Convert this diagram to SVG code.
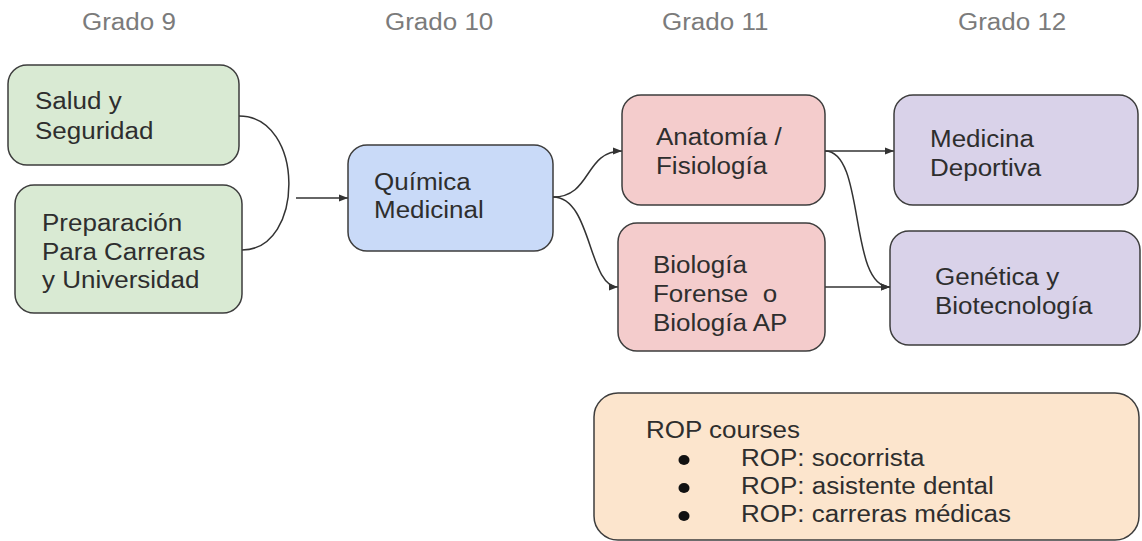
<svg xmlns="http://www.w3.org/2000/svg" width="1142" height="541" viewBox="0 0 1142 541">
<style>
.box{stroke:#3d3d3d;stroke-width:1.5}
.g{fill:#d9ead3}.b{fill:#c9daf8}.p{fill:#f4cccc}.v{fill:#d9d2e9}.o{fill:#fce5cd}
text{font-family:"Liberation Sans",Arial,sans-serif;font-size:23px;fill:#2e2e2e}
text.h{fill:#7b7b7b}
.c{fill:none;stroke:#333333;stroke-width:1.5}
</style>
<defs>
<marker id="ah" markerUnits="userSpaceOnUse" markerWidth="10" markerHeight="8" refX="9" refY="4" orient="auto">
<path d="M0,0.5 L9,4 L0,7.5 Z" fill="#333333"/>
</marker>
</defs>
<rect width="1142" height="541" fill="#ffffff"/>
<g id="headers">
<text class="h" transform="matrix(1.13,0,0,1,82,30)">Grado 9</text>
<text class="h" transform="matrix(1.13,0,0,1,385,30)">Grado 10</text>
<text class="h" transform="matrix(1.13,0,0,1,662,30)">Grado 11</text>
<text class="h" transform="matrix(1.13,0,0,1,958,30)">Grado 12</text>
</g>
<g id="connectors">
<path class="c" d="M239,116 C305,116 305,250 242,250"/>
<path class="c" d="M296,198 L348,198" marker-end="url(#ah)"/>
<path class="c" d="M553,197 C592,197 584,151 622,151" marker-end="url(#ah)"/>
<path class="c" d="M553,197 C592,197 588,287 618,287" marker-end="url(#ah)"/>
<path class="c" d="M825,151 L894,151" marker-end="url(#ah)"/>
<path class="c" d="M825,151 C866,151 848,287 890,287" marker-end="url(#ah)"/>
<path class="c" d="M825,287 L890,287" marker-end="url(#ah)"/>
</g>
<g id="salud">
<rect class="box g" x="8" y="65" width="231" height="100" rx="19"/>
<text transform="matrix(1.13,0,0,1,35,109)"><tspan x="0">Salud y</tspan><tspan x="0" dy="30">Seguridad</tspan></text>
</g>
<g id="preparacion">
<rect class="box g" x="15" y="185" width="227" height="128" rx="19"/>
<text transform="matrix(1.13,0,0,1,42,231)"><tspan x="0">Preparación</tspan><tspan x="0" dy="29">Para Carreras</tspan><tspan x="0" dy="28.5">y Universidad</tspan></text>
</g>
<g id="quimica">
<rect class="box b" x="348" y="145" width="205" height="106" rx="19"/>
<text transform="matrix(1.13,0,0,1,374,190)"><tspan x="0">Química</tspan><tspan x="0" dy="28">Medicinal</tspan></text>
</g>
<g id="anatomia">
<rect class="box p" x="622" y="95" width="203" height="110" rx="19"/>
<text transform="matrix(1.13,0,0,1,656,145)"><tspan x="0">Anatomía /</tspan><tspan x="0" dy="29">Fisiología</tspan></text>
</g>
<g id="biologia">
<rect class="box p" x="618" y="223" width="207" height="128" rx="19"/>
<text xml:space="preserve" transform="matrix(1.13,0,0,1,653,273)"><tspan x="0">Biología</tspan><tspan x="0" dy="29.5">Forense  o</tspan><tspan x="0" dy="28.5">Biología AP</tspan></text>
</g>
<g id="medicina">
<rect class="box v" x="894" y="95" width="244" height="110" rx="19"/>
<text transform="matrix(1.13,0,0,1,930,147)"><tspan x="0">Medicina</tspan><tspan x="0" dy="29">Deportiva</tspan></text>
</g>
<g id="genetica">
<rect class="box v" x="890" y="231" width="250" height="114" rx="19"/>
<text transform="matrix(1.13,0,0,1,935,285)"><tspan x="0">Genética y</tspan><tspan x="0" dy="29">Biotecnología</tspan></text>
</g>
<g id="rop">
<rect class="box o" x="594" y="393" width="545" height="147" rx="24"/>
<text transform="matrix(1.13,0,0,1,646,438)">ROP courses</text>
<ellipse cx="684" cy="460" rx="5.5" ry="5" fill="#111111"/>
<ellipse cx="684" cy="488" rx="5.5" ry="5" fill="#111111"/>
<ellipse cx="684" cy="516" rx="5.5" ry="5" fill="#111111"/>
<text transform="matrix(1.13,0,0,1,741,466)">ROP: socorrista</text>
<text transform="matrix(1.13,0,0,1,741,494)">ROP: asistente dental</text>
<text transform="matrix(1.13,0,0,1,741,522)">ROP: carreras médicas</text>
</g>
</svg>
